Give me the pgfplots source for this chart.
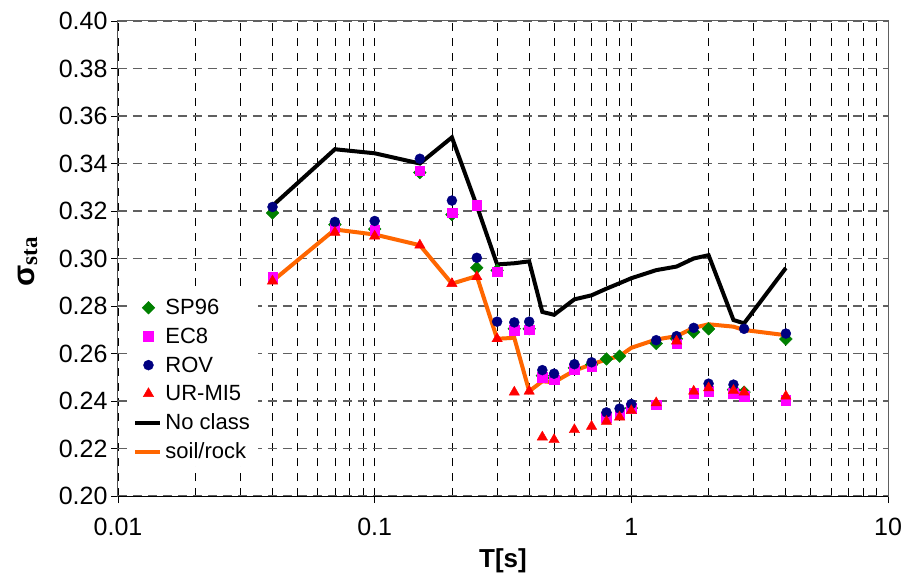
\documentclass[border=0pt]{standalone}
\usepackage{fontspec}
\setmainfont{Liberation Sans}
\newfontfamily\timesbf{Liberation Serif}
\usepackage{pgfplots}
\usepackage{pgfplotstable}
\pgfplotsset{compat=1.18}

\definecolor{spgreen}{RGB}{0,128,0}
\definecolor{ecmag}{RGB}{255,0,255}
\definecolor{rovnavy}{RGB}{0,0,128}
\definecolor{urred}{RGB}{255,0,0}
\definecolor{soilorange}{RGB}{255,102,0}
\definecolor{gridgray}{RGB}{96,96,96}

% sigma_sta per period T [s] for each classification
\pgfplotstableread{
T     sp96    ec8     rov     ur      noclass  soil
0.04  0.3192  0.2922  0.3217  0.2905  0.3222   0.2905
0.07  0.3143  0.3133  0.3154  0.3110  0.3460   0.3122
0.10  0.3124  0.3119  0.3158  0.3094  0.3443   0.3101
0.15  0.3362  0.3369  0.3420  0.3056  0.3400   0.3056
0.20  0.3185  0.3192  0.3244  0.2894  0.3510   0.2894
0.25  0.2961  0.3225  0.3003  0.2923  0.3222   0.2926
0.30  0.2950  0.2944  0.2734  0.2662  0.2975   0.2662
0.35  0.2704  0.2699  0.2731  0.2437  0.2980   0.2666
0.40  0.2704  0.2701  0.2734  0.2441  0.2988   0.2441
0.45  0.2507  0.2501  0.2530  0.2248  0.2775   0.2483
0.50  0.2497  0.2490  0.2515  0.2237  0.2763   0.2479
0.60  0.2539  0.2535  0.2555  0.2279  0.2828   0.2528
0.70  0.2553  0.2546  0.2563  0.2293  0.2845   0.2554
0.80  0.2577  0.2332  0.2352  0.2314  0.2873   0.2575
0.90  0.2589  0.2342  0.2368  0.2332  0.2896   0.2589
1.00  0.2370  0.2370  0.2387  0.2359  0.2917   0.2624
1.25  0.2642  0.2385  0.2656  0.2392  0.2951   0.2659
1.50  0.2662  0.2642  0.2673  0.2652  0.2966   0.2673
1.75  0.2690  0.2434  0.2708  0.2441  0.3000   0.2708
2.00  0.2704  0.2441  0.2473  0.2455  0.3014   0.2723
2.50  0.2448  0.2434  0.2469  0.2444  0.2741   0.2713
2.75  0.2437  0.2420  0.2704  0.2437  0.2727   0.2699
4.00  0.2661  0.2403  0.2684  0.2420  0.2960   0.2677
}\sigmadata

\begin{document}
\begin{tikzpicture}
\begin{axis}[
  name=ax,
  scale only axis,
  width=770pt, height=475pt,
  xmode=log,
  xmin=0.01, xmax=10,
  ymin=0.20, ymax=0.40,
  xtick={0.01,0.1,1,10},
  xticklabels={0.01,0.1,1,10},
  ytick={0.20,0.22,0.24,0.26,0.28,0.30,0.32,0.34,0.36,0.38,0.40},
  yticklabel style={/pgf/number format/fixed,/pgf/number format/precision=2,/pgf/number format/fixed zerofill},
  xticklabel style={yshift=-12pt},
  /pgf/number format/assume math mode=true,
  tick label style={font=\fontsize{25}{29}\selectfont},
  tick align=outside,
  xtick pos=bottom, ytick pos=left,
  major tick length=7pt,
  minor tick length=0pt,
  tick style={black, line width=0.8pt},
  grid=both,
  major x grid style={black, line width=0.8pt, dash pattern=on 8pt off 7pt},
  minor x grid style={black, line width=0.8pt, dash pattern=on 8pt off 7pt},
  major y grid style={gridgray, line width=1.2pt, dash pattern=on 9pt off 6pt},
  axis line style={gridgray, line width=1pt},
  xlabel={\bfseries T[s]},
  xlabel style={font=\fontsize{26}{30}\selectfont, at={(axis description cs:0.5,-0.136)}, anchor=center},
  ylabel={{\bfseries\fontsize{31}{33}\selectfont σ}{\raisebox{-0.45ex}{\timesbf\bfseries\fontsize{23}{25}\selectfont sta}}},
  ylabel style={at={(axis description cs:-0.117,0.493)}, anchor=center},
  legend style={at={(axis description cs:0.012,0.427)}, anchor=north west,
    draw=none, fill=white, font=\fontsize{22}{26}\selectfont,
    row sep=7.8pt, column sep=1pt, inner xsep=6pt, inner ysep=4pt},
  legend cell align=left,
]
% connecting lines first, so the markers sit on top
\addplot[black, line width=4pt, forget plot] table[x=T, y=noclass] {\sigmadata};
\addplot[soilorange, line width=4pt, forget plot] table[x=T, y=soil] {\sigmadata};

\addplot[only marks, mark=square*, mark size=4.5pt, spgreen, mark options={fill=spgreen, rotate=45}] table[x=T, y=sp96] {\sigmadata};
\addlegendentry{SP96}
\addplot[only marks, mark=square*, mark size=4.8pt, ecmag, mark options={fill=ecmag}] table[x=T, y=ec8] {\sigmadata};
\addlegendentry{EC8}
\addplot[only marks, mark=*, mark size=5pt, rovnavy, mark options={fill=rovnavy}] table[x=T, y=rov] {\sigmadata};
\addlegendentry{ROV}
\addplot[only marks, mark=triangle*, mark size=6pt, urred, mark options={fill=urred}] table[x=T, y=ur] {\sigmadata};
\addlegendentry{UR-MI5}
\addlegendimage{legend image code/.code={\draw[black, line width=4pt] (-4.5pt,0pt) -- (20.5pt,0pt);}}
\addlegendentry{No class}
\addlegendimage{legend image code/.code={\draw[soilorange, line width=4pt] (-4.5pt,0pt) -- (20.5pt,0pt);}}
\addlegendentry{soil/rock}

% solid black left and bottom axis lines over the grey frame
\draw[black, line width=1pt] (rel axis cs:0,1) -- (rel axis cs:0,0) -- (rel axis cs:1,0);
\end{axis}
\pgfresetboundingbox
\path ([shift={(-118pt,-79pt)}]ax.south west) rectangle ([shift={(16pt,21pt)}]ax.north east);
\end{tikzpicture}
\end{document}
